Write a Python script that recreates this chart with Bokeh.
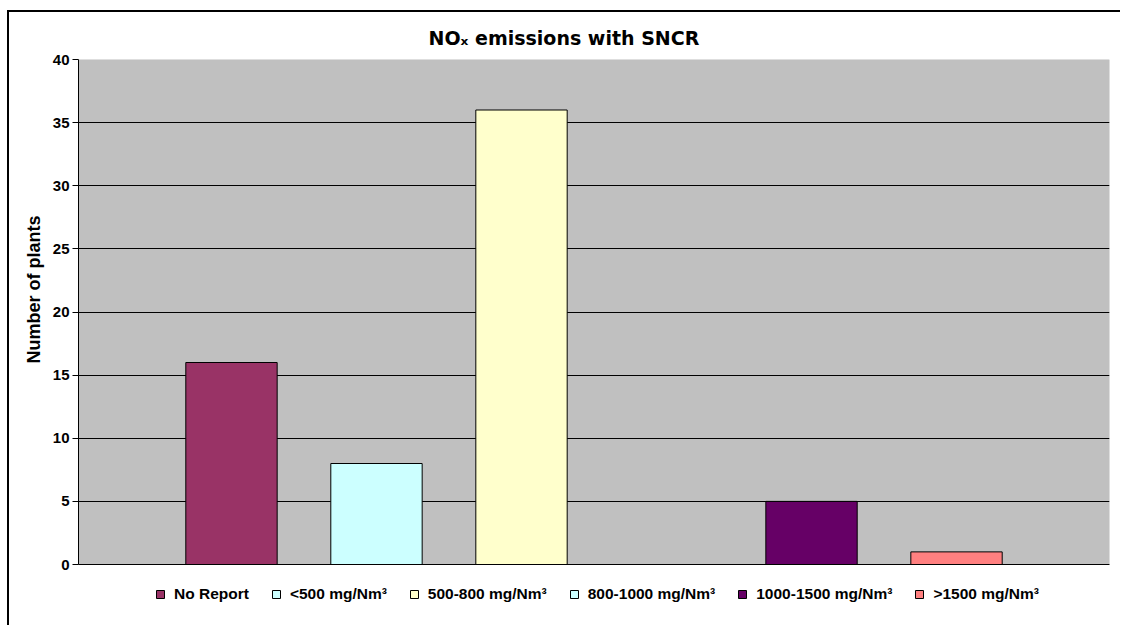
from bokeh.plotting import figure
from bokeh.models import (ColumnDataSource, FactorRange, Range1d, Legend,
                          LegendItem, Span, FixedTicker, BoxAnnotation, Title)
from bokeh.embed import file_html
from bokeh.resources import INLINE

# ---- data ----
categories = ["No Report", "<500 mg/Nm³", "500-800 mg/Nm³", "800-1000 mg/Nm³",
              "1000-1500 mg/Nm³", ">1500 mg/Nm³"]
plants = [16, 8, 36, 0, 5, 1]
colors = ["#993366", "#CCFFFF", "#FFFFCC", "#CCFFFF", "#660066", "#FF8080"]
y_ticks = [0, 5, 10, 15, 20, 25, 30, 35, 40]
y_min, y_max = 0, 40
title_text = "NOₓ emissions  with SNCR"
y_title = "Number of plants"

src = ColumnDataSource(dict(cat=categories, n=plants, color=colors))

# frame extends below the value axis to host the legend (505 px for 0..40, +56 px legend strip)
px_per_unit = 505 / (y_max - y_min)
p = figure(
    x_range=FactorRange(factors=categories, range_padding=0.555,
                        range_padding_units="absolute"),
    y_range=Range1d(y_min - 56 / px_per_unit, y_max),
    x_axis_location=None,
    frame_width=1031, frame_height=561,
    min_border_left=69, min_border_top=47, min_border_right=11, min_border_bottom=5,
    output_backend="svg", toolbar_location=None,
    background_fill_color="white", border_fill_color="white",
)
p.styles = {"border-top": "2px solid black", "border-left": "2px solid black",
            "margin-left": "7px", "margin-top": "10px"}
p.outline_line_color = None

# grey plot area
p.add_layout(BoxAnnotation(bottom=y_min, top=y_max, fill_color="#C0C0C0", fill_alpha=1,
                           line_color="#808080", line_width=1, level="image"))

r = p.vbar(x="cat", top="n", width=0.63, source=src, fill_color="color",
           line_color="black", line_width=1)

# title
p.title.text = title_text
p.title.text_font = "DejaVu Sans"
p.title.text_font_style = "bold"
p.title.text_font_size = "19px"
p.title.text_color = "black"
p.title.align = "left"
p.title.offset = 350
p.title.standoff = 22

# axes
p.xgrid.visible = False
ticker = FixedTicker(ticks=y_ticks)
p.yaxis.ticker = ticker
p.ygrid.ticker = ticker
p.ygrid.grid_line_color = "black"
p.ygrid.grid_line_width = 1
p.ygrid.bounds = (5, 35)
ax = p.yaxis[0]
ax.bounds = (y_min, y_max)
ax.major_label_text_font = "Liberation Sans"
ax.major_label_text_font_style = "bold"
ax.major_label_text_font_size = "15px"
ax.major_label_text_color = "black"
ax.major_tick_out = 6
ax.major_tick_in = 0
ax.minor_tick_out = 0
ax.minor_tick_in = 0
ax.major_label_standoff = 3
ax.axis_line_color = "black"
ax.major_tick_line_color = "black"

# y-axis title as a side title, placed along the value axis
p.add_layout(Title(text=y_title, align="right", offset=156, standoff=12,
                   text_font="Liberation Sans", text_font_style="bold",
                   text_font_size="18px", text_color="black"), "left")

p.add_layout(Span(location=y_min, dimension="width", line_color="black", line_width=1))

# legend
items = [LegendItem(label=categories[i], renderers=[r], index=i) for i in range(len(categories))]
legend = Legend(items=items, orientation="horizontal", location=(77, 17),
                glyph_width=10, glyph_height=10, label_standoff=9, spacing=22,
                label_text_font="Liberation Sans", label_text_font_style="bold",
                label_text_font_size="15.5px", label_text_color="black",
                label_height=18, border_line_color=None, background_fill_alpha=0,
                margin=0, padding=0)
p.add_layout(legend)

open("out.html", "w").write(file_html(p, INLINE))
